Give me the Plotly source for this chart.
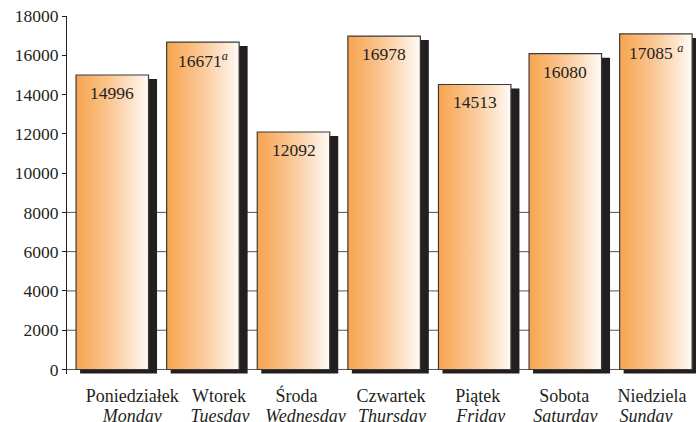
import plotly.graph_objects as go

# Average daily counts by day of week
days_pl = ["Poniedziałek", "Wtorek", "Środa", "Czwartek", "Piątek", "Sobota", "Niedziela"]
days_en = ["Monday", "Tuesday", "Wednesday", "Thursday", "Friday", "Saturday", "Sunday"]
values = [14996, 16671, 12092, 16978, 14513, 16080, 17085]
footnote = ["", "a", "", "", "", "", "a"]
value_sep = ["", "", "", "", "", "", " "]

y_ticks = list(range(0, 18001, 2000))
grid_levels = [0, 2000, 4000, 6000, 8000]

# ---- styling ----
W, H = 696, 422
M_L, M_R, M_T, M_B = 67, 0, 16, 48
Y_MIN, Y_MAX = -230, 18000
X_MIN = -0.5
CAT_PX = 90.6                      # pixel width of one category slot
X_MAX = X_MIN + (W - M_L - M_R) / CAT_PX
BAR_W = 0.80                       # bar width as fraction of slot

# horizontal nudges (px) of the category captions relative to the bar centre
NUDGE_PL = [20, 16, 3, 7, 3, -1, -4]
NUDGE_EN = [20, 17, 12, 8, 6, 0, -10]

plot_h = H - M_T - M_B
px_y = (Y_MAX - Y_MIN) / plot_h    # data units per pixel (y)
px_x = 1.0 / CAT_PX                # data units per pixel (x)

SH_LEFT = 4 * px_x                 # shadow offsets
SH_RIGHT = 8.5 * px_x
SH_DOWN = 4 * px_y

INK = "#231F20"
FONT = "'Liberation Serif', 'Times New Roman', Times, serif"
GRADIENT = [[0.0, "#F7A44E"], [0.45, "#FAC591"], [0.8, "#FDE6CF"], [1.0, "#FFFBF7"]]

fig = go.Figure()

# drop shadows (main subplot, drawn underneath)
for i, v in enumerate(values):
    x0, x1 = i - BAR_W / 2 + SH_LEFT, i + BAR_W / 2 + SH_RIGHT
    y0, y1 = -SH_DOWN, v - SH_DOWN
    fig.add_trace(go.Scatter(
        x=[x0, x1, x1, x0, x0], y=[y0, y0, y1, y1, y0],
        mode="lines", fill="toself", fillcolor=INK,
        line=dict(width=0, color=INK), hoverinfo="skip", showlegend=False,
        xaxis="x", yaxis="y",
    ))

# gradient bars (overlay subplot, drawn on top of shadows)
for i, v in enumerate(values):
    x0, x1 = i - BAR_W / 2, i + BAR_W / 2
    fig.add_trace(go.Scatter(
        x=[x0, x1, x1, x0, x0], y=[0, 0, v, v, 0],
        mode="lines", fill="toself",
        fillgradient=dict(type="horizontal", colorscale=GRADIENT),
        line=dict(width=1.2, color="#3a3a3a"),
        name=days_en[i], hoverinfo="skip", showlegend=False,
        xaxis="x2", yaxis="y",
    ))

# horizontal guide lines
for g in grid_levels:
    fig.add_shape(type="line", xref="paper", yref="y", x0=0, x1=1, y0=g, y1=g,
                  line=dict(color="#555555", width=1), layer="below")

# value labels inside the bars
for i, v in enumerate(values):
    txt = f"{v}"
    if footnote[i]:
        txt += f"{value_sep[i]}<sup><i>{footnote[i]}</i></sup>"
    fig.add_annotation(x=i, y=v, xref="x", yref="y", text=txt, showarrow=False,
                       yanchor="middle", yshift=-18,
                       font=dict(family=FONT, size=17.5, color=INK))

fig.update_layout(
    width=W, height=H,
    margin=dict(l=M_L, r=M_R, t=M_T, b=M_B, pad=0, autoexpand=False),
    paper_bgcolor="white", plot_bgcolor="white",
    showlegend=False,
    font=dict(family=FONT, color=INK),
    xaxis=dict(range=[X_MIN, X_MAX],
               tickvals=[i + n * px_x for i, n in enumerate(NUDGE_PL)], ticktext=days_pl,
               showgrid=False, zeroline=False, showline=False, ticks="", automargin=False,
               tickfont=dict(family=FONT, size=18, color=INK), ticklabelstandoff=9),
    xaxis2=dict(range=[X_MIN, X_MAX], overlaying="x", anchor="y", side="bottom",
                tickvals=[i + n * px_x for i, n in enumerate(NUDGE_EN)],
                ticktext=[f"<i>{d}</i>" for d in days_en],
                showgrid=False, zeroline=False, showline=False, ticks="", automargin=False,
                tickfont=dict(family=FONT, size=18, color=INK), ticklabelstandoff=29),
    yaxis=dict(range=[Y_MIN, Y_MAX], tickvals=y_ticks, ticktext=[str(t) for t in y_ticks],
               showgrid=False, zeroline=False, showline=True, linecolor=INK, linewidth=1,
               ticks="outside", ticklen=4, tickcolor=INK, tickwidth=1, automargin=False,
               tickfont=dict(family=FONT, size=17.5, color=INK)),
)

fig.write_html("out.html")
